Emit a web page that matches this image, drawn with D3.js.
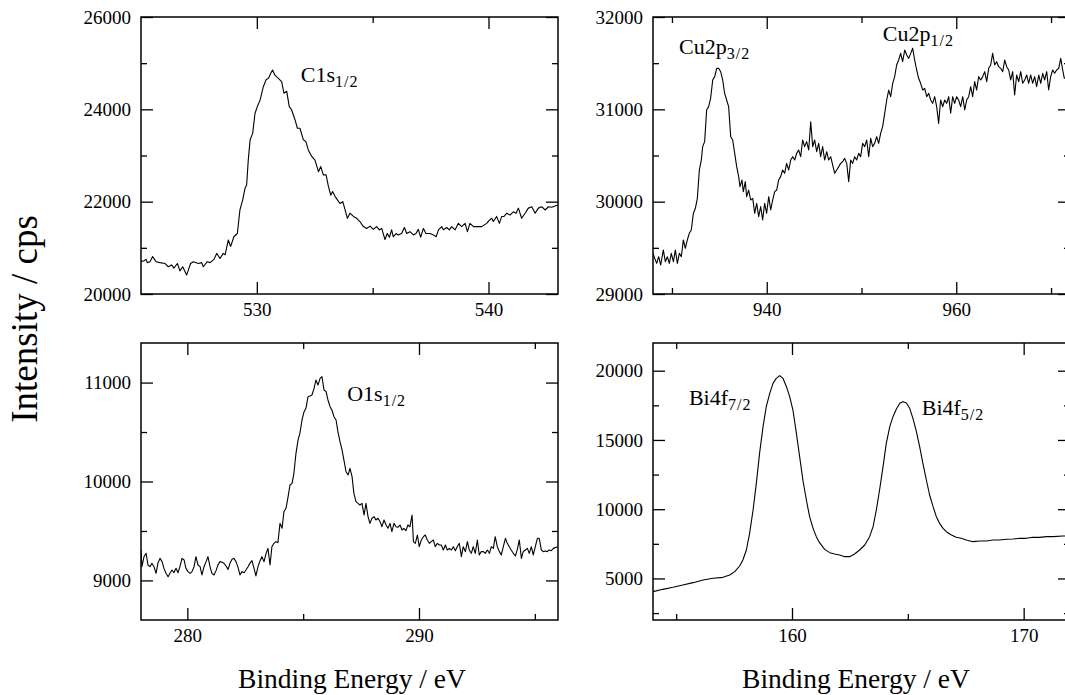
<!DOCTYPE html>
<html>
<head>
<meta charset="utf-8">
<script src="https://cdn.jsdelivr.net/npm/d3@7"></script>
<style>
  body { margin: 0; background: #fff; }
  svg { display: block; }
</style>
</head>
<body>
<div id="chart"></div>
<script>
// Spectra: [binding energy (eV), intensity (cps)]
const c1sSpectrum = [
  [525.0,20700],[525.13,20720],[525.22,20750],[525.27,20680],[525.39,20700],[525.5,20810],[525.65,20700],[525.82,20680],
  [526.04,20660],[526.18,20590],[526.32,20630],[526.42,20560],[526.57,20660],[526.68,20500],[526.8,20590],[526.97,20410],
  [527.14,20660],[527.26,20700],[527.48,20660],[527.62,20680],[527.69,20590],[527.86,20700],[527.98,20680],[528.15,20750],
  [528.27,20880],[528.41,20770],[528.55,20880],[528.63,20850],[528.77,21170],[528.87,21030],[529.01,21240],[529.16,21310],
  [529.27,21820],[529.39,22040],[529.49,22290],[529.56,22360],[529.63,22900],[529.71,23340],[529.82,23480],[529.92,23910],
  [530.02,24060],[530.14,24200],[530.28,24490],[530.4,24640],[530.5,24670],[530.6,24780],[530.68,24850],[530.78,24740],
  [530.93,24670],[531.07,24600],[531.17,24350],[531.29,24390],[531.4,24060],[531.5,23990],[531.65,23770],[531.75,23590],
  [531.86,23590],[532.01,23340],[532.12,23300],[532.22,23120],[532.37,22980],[532.51,22900],[532.66,22650],[532.76,22760],
  [532.87,22580],[532.99,22580],[533.09,22330],[533.19,22140],[533.27,22220],[533.38,22110],[533.48,22040],[533.59,21960],
  [533.71,22000],[533.81,21820],[533.91,21640],[534.02,21750],[534.17,21680],[534.31,21640],[534.45,21570],[534.6,21460],
  [534.74,21420],[534.89,21470],[535.03,21400],[535.17,21460],[535.29,21390],[535.39,21420],[535.53,21180],[535.63,21310],
  [535.72,21230],[535.82,21390],[535.89,21240],[536.01,21310],[536.11,21280],[536.25,21310],[536.37,21440],[536.47,21310],
  [536.61,21350],[536.76,21280],[536.87,21310],[536.97,21400],[537.07,21230],[537.19,21420],[537.3,21310],[537.48,21310],
  [537.62,21280],[537.74,21240],[537.84,21390],[537.98,21460],[538.05,21390],[538.2,21440],[538.31,21390],[538.41,21460],
  [538.56,21390],[538.7,21530],[538.84,21460],[538.99,21530],[539.09,21350],[539.2,21530],[539.35,21460],[539.49,21460],
  [539.71,21460],[539.92,21530],[540.04,21600],[540.14,21640],[540.21,21570],[540.35,21680],[540.47,21530],[540.57,21680],
  [540.67,21680],[540.79,21750],[540.93,21710],[541.07,21780],[541.19,21750],[541.29,21860],[541.43,21640],[541.58,21750],
  [541.72,21860],[541.87,21890],[542.01,21750],[542.15,21860],[542.3,21890],[542.44,21820],[542.59,21890],[542.73,21880],
  [542.99,21930]
];

const cu2pSpectrum = [
  [928.0,29440],[928.18,29386],[928.39,29332],[928.6,29404],[928.81,29314],[929.09,29477],[929.3,29350],[929.51,29404],
  [929.72,29332],[929.93,29440],[930.15,29350],[930.36,29477],[930.57,29332],[930.78,29440],[930.99,29404],[931.2,29585],
  [931.41,29495],[931.62,29585],[931.83,29657],[932.04,29693],[932.26,29874],[932.47,29928],[932.68,30036],[932.89,30343],
  [933.1,30451],[933.24,30596],[933.45,30650],[933.66,30993],[933.87,31029],[934.08,31119],[934.3,31318],[934.51,31354],
  [934.72,31444],[934.93,31444],[935.14,31408],[935.35,31318],[935.56,31173],[935.77,31101],[935.98,31029],[936.2,30704],
  [936.41,30668],[936.62,30523],[936.83,30379],[937.04,30271],[937.18,30162],[937.39,30235],[937.53,30108],[937.74,30217],
  [937.88,30054],[938.09,30126],[938.31,30018],[938.52,30036],[938.73,29874],[938.94,29982],[939.15,29838],[939.36,29946],
  [939.57,29801],[939.78,29982],[939.99,29874],[940.21,30054],[940.42,29910],[940.63,30018],[940.84,30108],[941.05,30126],
  [941.26,30235],[941.47,30271],[941.68,30343],[941.89,30307],[942.1,30415],[942.32,30343],[942.53,30451],[942.74,30487],
  [942.95,30451],[943.16,30523],[943.37,30560],[943.58,30487],[943.79,30668],[944.0,30596],[944.21,30650],[944.43,30560],
  [944.64,30866],[944.85,30596],[945.06,30668],[945.27,30541],[945.48,30632],[945.69,30487],[945.9,30596],[946.11,30451],
  [946.33,30541],[946.54,30451],[946.75,30487],[946.96,30397],[947.17,30307],[947.38,30343],[947.59,30379],[947.8,30415],
  [948.01,30433],[948.22,30469],[948.44,30415],[948.65,30217],[948.86,30451],[949.07,30415],[949.28,30487],[949.49,30451],
  [949.7,30523],[949.91,30487],[950.12,30632],[950.34,30596],[950.55,30668],[950.76,30487],[950.97,30686],[951.18,30596],
  [951.39,30632],[951.6,30704],[951.81,30632],[952.02,30740],[952.23,30812],[952.45,30957],[952.66,31101],[952.87,31209],
  [953.08,31137],[953.29,31282],[953.5,31354],[953.71,31480],[953.92,31534],[954.13,31606],[954.34,31516],[954.56,31642],
  [954.77,31588],[954.98,31552],[955.19,31606],[955.4,31661],[955.61,31534],[955.82,31426],[956.03,31336],[956.24,31282],
  [956.46,31209],[956.67,31227],[956.88,31137],[957.09,31173],[957.3,31101],[957.51,31065],[957.72,31137],[957.93,31029],
  [958.14,30848],[958.35,31101],[958.57,31029],[958.78,31101],[958.99,31065],[959.2,31137],[959.41,30957],[959.62,31137],
  [959.83,31065],[960.04,31137],[960.25,31101],[960.46,31029],[960.68,31137],[960.89,30993],[961.1,31101],[961.31,31137],
  [961.52,31245],[961.73,31137],[961.94,31300],[962.15,31209],[962.36,31354],[962.58,31318],[962.79,31354],[963.0,31408],
  [963.21,31300],[963.42,31444],[963.63,31480],[963.84,31606],[964.05,31480],[964.26,31516],[964.47,31462],[964.69,31444],
  [964.9,31408],[965.11,31534],[965.32,31462],[965.53,31426],[965.74,31318],[965.95,31408],[966.16,31155],[966.37,31372],
  [966.59,31300],[966.8,31408],[967.01,31282],[967.22,31318],[967.43,31372],[967.64,31282],[967.85,31372],[968.06,31282],
  [968.27,31354],[968.48,31245],[968.7,31372],[968.91,31282],[969.12,31390],[969.33,31318],[969.54,31408],[969.75,31209],
  [969.96,31354],[970.17,31426],[970.38,31390],[970.59,31426],[970.81,31444],[971.02,31552],[971.23,31426],[971.4,31336],
  [972.0,31380]
];

const o1sSpectrum = [
  [278.0,9308],[278.04,9139],[278.13,9240],[278.22,9274],[278.3,9156],[278.39,9139],[278.47,9173],[278.56,9139],
  [278.65,9072],[278.73,9173],[278.82,9223],[278.91,9190],[278.99,9122],[279.08,9072],[279.17,9038],[279.25,9072],
  [279.34,9105],[279.42,9078],[279.51,9122],[279.6,9078],[279.68,9139],[279.77,9223],[279.86,9207],[279.94,9122],
  [280.03,9089],[280.12,9072],[280.2,9089],[280.29,9139],[280.37,9240],[280.46,9156],[280.55,9139],[280.63,9055],
  [280.72,9139],[280.81,9190],[280.89,9240],[280.98,9139],[281.06,9072],[281.15,9055],[281.24,9099],[281.32,9156],
  [281.41,9190],[281.5,9183],[281.58,9173],[281.67,9146],[281.76,9112],[281.84,9173],[281.93,9213],[282.01,9223],
  [282.1,9190],[282.19,9132],[282.27,9055],[282.36,9089],[282.45,9078],[282.53,9105],[282.62,9139],[282.7,9173],
  [282.79,9200],[282.88,9122],[282.96,9045],[283.05,9139],[283.14,9200],[283.22,9240],[283.31,9190],[283.4,9274],
  [283.48,9324],[283.57,9156],[283.65,9341],[283.74,9375],[283.83,9392],[283.91,9382],[284.0,9577],[284.09,9527],
  [284.17,9695],[284.26,9729],[284.35,9847],[284.43,9965],[284.52,9981],[284.6,10083],[284.69,10285],[284.78,10420],
  [284.86,10487],[284.95,10622],[285.04,10706],[285.12,10740],[285.21,10857],[285.29,10864],[285.38,10874],[285.47,10942],
  [285.55,11026],[285.64,10975],[285.73,11043],[285.81,11060],[285.9,10925],[285.99,10908],[286.07,10824],[286.16,10756],
  [286.24,10723],[286.33,10655],[286.42,10622],[286.5,10504],[286.59,10403],[286.68,10318],[286.76,10217],[286.85,10099],
  [286.94,10066],[287.02,10133],[287.11,10049],[287.19,9880],[287.28,9796],[287.37,9779],[287.45,9762],[287.54,9779],
  [287.63,9661],[287.71,9779],[287.8,9645],[287.88,9577],[287.97,9628],[288.06,9645],[288.14,9611],[288.23,9628],
  [288.32,9594],[288.4,9543],[288.49,9611],[288.58,9560],[288.66,9527],[288.75,9577],[288.83,9493],[288.92,9577],
  [289.01,9543],[289.09,9537],[289.18,9560],[289.27,9510],[289.35,9527],[289.44,9503],[289.52,9560],[289.61,9543],
  [289.7,9661],[289.76,9392],[289.84,9375],[289.93,9459],[290.01,9341],[290.1,9409],[290.19,9442],[290.27,9459],
  [290.36,9409],[290.45,9375],[290.53,9392],[290.62,9409],[290.7,9341],[290.79,9375],[290.88,9358],[290.96,9358],
  [291.05,9308],[291.14,9358],[291.22,9308],[291.31,9324],[291.4,9308],[291.48,9341],[291.57,9301],[291.65,9341],
  [291.74,9375],[291.83,9240],[291.91,9341],[292.0,9291],[292.09,9392],[292.17,9308],[292.26,9274],[292.34,9341],
  [292.43,9274],[292.52,9409],[292.6,9257],[292.69,9291],[292.78,9291],[292.86,9274],[292.95,9308],[293.04,9274],
  [293.12,9341],[293.21,9324],[293.29,9442],[293.38,9341],[293.47,9291],[293.55,9257],[293.64,9341],[293.73,9426],
  [293.81,9375],[293.9,9341],[293.98,9308],[294.07,9274],[294.16,9247],[294.24,9308],[294.33,9409],[294.42,9223],
  [294.5,9291],[294.59,9308],[294.68,9324],[294.76,9274],[294.85,9341],[294.93,9257],[295.02,9341],[295.11,9426],
  [295.19,9426],[295.28,9308],[295.37,9291],[295.45,9298],[295.54,9291],[295.62,9308],[295.71,9301],[295.8,9324],
  [295.98,9341]
];

const bi4fSpectrum = [
  [154.0,4046],[154.43,4214],[154.86,4359],[155.29,4527],[155.73,4696],[156.16,4888],[156.59,5009],[157.02,5081],
  [157.31,5249],[157.53,5490],[157.74,5899],[157.88,6332],[158.03,7055],[158.17,8258],[158.32,9943],[158.46,11868],
  [158.6,14034],[158.75,15959],[158.89,17403],[159.04,18366],[159.18,19088],[159.32,19449],[159.47,19641],[159.61,19449],
  [159.76,18847],[159.9,18125],[160.04,17162],[160.19,15478],[160.33,13793],[160.47,12108],[160.62,10664],[160.76,9461],
  [160.91,8619],[161.05,8017],[161.19,7584],[161.41,7102],[161.63,6862],[161.84,6766],[162.06,6693],[162.27,6573],
  [162.49,6573],[162.7,6766],[162.92,7055],[163.14,7415],[163.35,8017],[163.5,8739],[163.64,9943],[163.78,11387],
  [163.93,13071],[164.07,14756],[164.22,15959],[164.36,16681],[164.5,17211],[164.65,17644],[164.79,17764],[164.93,17692],
  [165.08,17283],[165.22,16561],[165.37,15598],[165.51,14515],[165.65,13312],[165.8,12108],[165.94,11025],[166.09,10183],
  [166.23,9461],[166.37,8980],[166.52,8619],[166.66,8378],[166.88,8137],[167.09,7969],[167.31,7897],[167.52,7777],
  [167.81,7656],[168.1,7704],[168.39,7704],[168.68,7777],[168.96,7777],[169.25,7825],[169.54,7849],[169.83,7897],
  [170.11,7897],[170.4,7969],[170.69,7969],[170.98,8017],[171.27,8017],[171.7,8065],[172.0,8065]
];

// Axis ranges and tick values
const c1sRange = [525, 543], c1sCounts = [20000, 26000];
const c1sMajorX = [530, 540], c1sMinorX = [535];
const c1sMajorY = [20000, 22000, 24000, 26000], c1sMinorY = [21000, 23000, 25000];

const cu2pRange = [928, 972], cu2pCounts = [29000, 32000];
const cu2pMajorX = [940, 960], cu2pMinorX = [930, 950, 970];
const cu2pMajorY = [29000, 30000, 31000, 32000], cu2pMinorY = [29500, 30500, 31500];

const o1sRange = [278, 296], o1sCounts = [8600, 11400];
const o1sMajorX = [280, 290], o1sMinorX = [285, 295];
const o1sMajorY = [9000, 10000, 11000], o1sMinorY = [9500, 10500];

const bi4fRange = [154, 172], bi4fCounts = [2000, 22000];
const bi4fMajorX = [160, 170], bi4fMinorX = [155, 165];
const bi4fMajorY = [5000, 10000, 15000, 20000], bi4fMinorY = [2500, 7500, 12500, 17500];

// Peak names, anchored at [energy, counts]
const c1sPeaks = [{ name: "C1s", sub: "1/2", at: [531.9, 24600] }];
const cu2pPeaks = [
  { name: "Cu2p", sub: "3/2", at: [930.75, 31600] },
  { name: "Cu2p", sub: "1/2", at: [952.25, 31735] }
];
const o1sPeaks = [{ name: "O1s", sub: "1/2", at: [286.9, 10810] }];
const bi4fPeaks = [
  { name: "Bi4f", sub: "7/2", at: [155.55, 17520] },
  { name: "Bi4f", sub: "5/2", at: [165.6, 16780] }
];

const font = "'Liberation Serif', 'Times New Roman', Times, serif";
const W = 1065, H = 695;
const plotW = 417, plotH = 277;

const panels = [
  { id: "c1s", left: 141, top: 17, data: c1sSpectrum, xd: c1sRange, yd: c1sCounts,
    xMaj: c1sMajorX, xMin: c1sMinorX, yMaj: c1sMajorY, yMin: c1sMinorY, peaks: c1sPeaks },
  { id: "cu2p", left: 653, top: 17, data: cu2pSpectrum, xd: cu2pRange, yd: cu2pCounts,
    xMaj: cu2pMajorX, xMin: cu2pMinorX, yMaj: cu2pMajorY, yMin: cu2pMinorY, peaks: cu2pPeaks },
  { id: "o1s", left: 141, top: 343, data: o1sSpectrum, xd: o1sRange, yd: o1sCounts,
    xMaj: o1sMajorX, xMin: o1sMinorX, yMaj: o1sMajorY, yMin: o1sMinorY, peaks: o1sPeaks },
  { id: "bi4f", left: 653, top: 343, data: bi4fSpectrum, xd: bi4fRange, yd: bi4fCounts,
    xMaj: bi4fMajorX, xMin: bi4fMinorX, yMaj: bi4fMajorY, yMin: bi4fMinorY, peaks: bi4fPeaks }
];

const svg = d3.select("#chart")
  .append("svg")
  .attr("width", W)
  .attr("height", H)
  .attr("viewBox", `0 0 ${W} ${H}`);

svg.append("rect").attr("width", W).attr("height", H).attr("fill", "#fff");

// draw one side of ticks; labels only where asked
const drawTicks = (g, scale, side, values, len, labelled) => {
  const make = { left: d3.axisLeft, right: d3.axisRight, top: d3.axisTop, bottom: d3.axisBottom }[side];
  const axis = make(scale)
    .tickValues(values)
    .tickSizeInner(-len)
    .tickSizeOuter(0)
    .tickPadding(side === "bottom" ? 9 : 10)
    .tickFormat(labelled ? d3.format("d") : () => "");

  const shift = side === "right" ? `translate(${plotW},0)` : side === "bottom" ? `translate(0,${plotH})` : "translate(0,0)";

  g.append("g")
    .attr("transform", shift)
    .call(axis)
    .call(a => a.select(".domain").remove())
    .call(a => a.selectAll(".tick line").attr("stroke", "#000").attr("stroke-width", 1.3))
    .call(a => a.selectAll(".tick text").attr("fill", "#000"))
    .attr("font-family", font)
    .attr("font-size", 19);
};

panels.forEach(p => {
  const x = d3.scaleLinear().domain(p.xd).range([0, plotW]);
  const y = d3.scaleLinear().domain(p.yd).range([plotH, 0]);

  const g = svg.append("g").attr("transform", `translate(${p.left},${p.top})`);

  g.append("clipPath").attr("id", `clip-${p.id}`)
    .append("rect").attr("width", plotW).attr("height", plotH);

  // spectrum
  const line = d3.line().x(d => x(d[0])).y(d => y(d[1]));
  g.append("path")
    .datum(p.data)
    .attr("clip-path", `url(#clip-${p.id})`)
    .attr("fill", "none")
    .attr("stroke", "#000")
    .attr("stroke-width", 1.1)
    .attr("stroke-linejoin", "round")
    .attr("d", line);

  // ticks on all four sides, pointing in
  drawTicks(g, y, "left", p.yMaj, 12, true);
  drawTicks(g, y, "left", p.yMin, 6, false);
  drawTicks(g, y, "right", p.yMaj, 12, false);
  drawTicks(g, y, "right", p.yMin, 6, false);
  drawTicks(g, x, "bottom", p.xMaj, 12, true);
  drawTicks(g, x, "bottom", p.xMin, 6, false);
  drawTicks(g, x, "top", p.xMaj, 12, false);
  drawTicks(g, x, "top", p.xMin, 6, false);

  // frame
  g.append("rect")
    .attr("width", plotW)
    .attr("height", plotH)
    .attr("fill", "none")
    .attr("stroke", "#000")
    .attr("stroke-width", 1.5);

  // peak labels
  p.peaks.forEach(pk => {
    const t = g.append("text")
      .attr("x", x(pk.at[0]))
      .attr("y", y(pk.at[1]))
      .attr("font-family", font)
      .attr("font-size", 22)
      .attr("fill", "#000");
    t.append("tspan").text(pk.name);
    t.append("tspan")
      .attr("font-size", 16)
      .attr("dy", 5)
      .attr("letter-spacing", 1)
      .text(pk.sub);
  });
});

// axis titles
svg.append("text")
  .attr("transform", "translate(37,319) rotate(-90)")
  .attr("text-anchor", "middle")
  .attr("font-family", font)
  .attr("font-size", 37)
  .text("Intensity / cps");

[352, 856].forEach(cx => {
  svg.append("text")
    .attr("x", cx)
    .attr("y", 688)
    .attr("text-anchor", "middle")
    .attr("font-family", font)
    .attr("font-size", 27.5)
    .text("Binding Energy / eV");
});
</script>
</body>
</html>
